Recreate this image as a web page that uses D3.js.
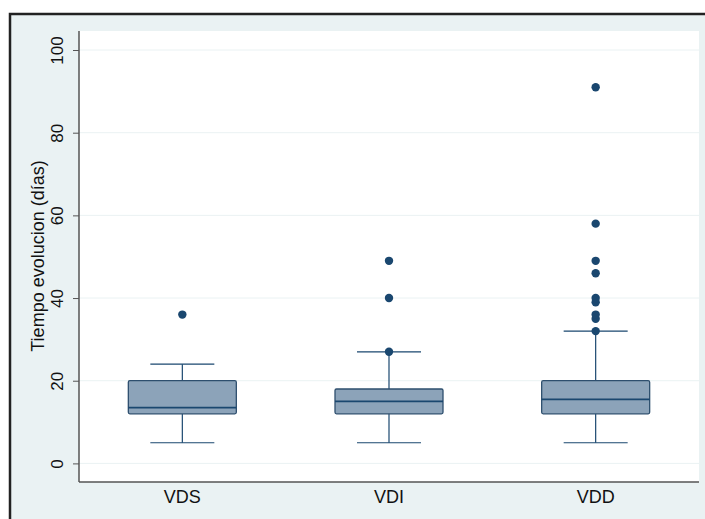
<!DOCTYPE html>
<html>
<head>
<meta charset="utf-8">
<script src="https://cdn.jsdelivr.net/npm/d3@7"></script>
<style>
  body { margin: 0; background: #fff; }
  svg { display: block; font-family: "Liberation Sans", Arial, sans-serif; }
</style>
</head>
<body>
<svg width="705" height="519"></svg>
<script>
// groups and box stats
var groups = ["VDS", "VDI", "VDD"];
var lowWhisker = [5, 5, 5];
var q1 = [12, 12, 12];
var median = [13.5, 15, 15.5];
var q3 = [20, 18, 20];
var highWhisker = [24, 27, 32];
var outliers = [
  [36],
  [27, 40, 49],
  [32, 35, 36, 39, 40, 46, 49, 58, 91]
];
var yTicks = [0, 20, 40, 60, 80, 100];

var navy = "#1a476f";

var svg = d3.select("svg");

// outer frame (stata graph region)
svg.append("rect")
  .attr("x", 10).attr("y", 14)
  .attr("width", 705).attr("height", 519)
  .attr("fill", "#eaf2f3")
  .attr("stroke", "#222")
  .attr("stroke-width", 2.5);

var margin = {left: 79, top: 31, right: 6, bottom: 37};
var width = 705 - margin.left - margin.right,
  height = 519 - margin.top - margin.bottom;

var g = svg.append("g")
  .attr("transform", "translate(" + margin.left + "," + margin.top + ")");

g.append("rect")
  .attr("width", width).attr("height", height)
  .attr("fill", "#fff");

var y = d3.scaleLinear().domain([-4.5, 104.6]).range([height, 0]);
var x = d3.scalePoint().domain(groups).range([0, width]).padding(0.5);

// gridlines
g.append("g").selectAll("line")
  .data(yTicks)
  .enter().append("line")
  .attr("x1", 0).attr("x2", width)
  .attr("y1", function (d) { return y(d); })
  .attr("y2", function (d) { return y(d); })
  .attr("stroke", "#eaf2f3")
  .attr("stroke-width", 1);

// y axis, labels turned on their side like stata
var yAxis = g.append("g")
  .call(d3.axisLeft(y).tickValues(yTicks).tickSize(6));
yAxis.attr("font-size", null).attr("font-family", null);
yAxis.select(".domain").attr("stroke", "#555").attr("stroke-width", 1.5).attr("d", "M0," + height + "V0");
yAxis.selectAll(".tick line").attr("stroke", "#555");
yAxis.selectAll(".tick text")
  .attr("font-size", 17)
  .attr("fill", "#111")
  .attr("transform", "rotate(-90)")
  .attr("x", 0)
  .attr("y", -20)
  .attr("dy", "0")
  .attr("text-anchor", "middle")
  .attr("dominant-baseline", "middle");

// x axis
g.append("line")
  .attr("x1", 0).attr("x2", width)
  .attr("y1", height).attr("y2", height)
  .attr("stroke", "#555").attr("stroke-width", 1.5);

g.append("g").selectAll("text")
  .data(groups)
  .enter().append("text")
  .attr("x", function (d) { return x(d); })
  .attr("y", height + 16)
  .attr("text-anchor", "middle")
  .attr("dominant-baseline", "middle")
  .attr("font-size", 18)
  .attr("fill", "#111")
  .text(function (d) { return d; });

// axis title
svg.append("text")
  .attr("transform", "translate(39,256) rotate(-90)")
  .attr("text-anchor", "middle")
  .attr("dominant-baseline", "middle")
  .attr("font-size", 18)
  .attr("fill", "#111")
  .text("Tiempo evolucion (días)");

// boxes
var boxW = 108, capW = 64;
var box = g.append("g").selectAll("g")
  .data(groups)
  .enter().append("g")
  .attr("transform", function (d) { return "translate(" + x(d) + ",0)"; });

box.append("line")
  .attr("x1", 0).attr("x2", 0)
  .attr("y1", function (d, i) { return y(lowWhisker[i]); })
  .attr("y2", function (d, i) { return y(q1[i]); })
  .attr("stroke", navy).attr("stroke-width", 1.2);
box.append("line")
  .attr("x1", 0).attr("x2", 0)
  .attr("y1", function (d, i) { return y(q3[i]); })
  .attr("y2", function (d, i) { return y(highWhisker[i]); })
  .attr("stroke", navy).attr("stroke-width", 1.2);
box.append("line")
  .attr("x1", -capW / 2).attr("x2", capW / 2)
  .attr("y1", function (d, i) { return y(lowWhisker[i]); })
  .attr("y2", function (d, i) { return y(lowWhisker[i]); })
  .attr("stroke", navy).attr("stroke-width", 1.2);
box.append("line")
  .attr("x1", -capW / 2).attr("x2", capW / 2)
  .attr("y1", function (d, i) { return y(highWhisker[i]); })
  .attr("y2", function (d, i) { return y(highWhisker[i]); })
  .attr("stroke", navy).attr("stroke-width", 1.2);

box.append("rect")
  .attr("x", -boxW / 2).attr("width", boxW)
  .attr("y", function (d, i) { return y(q3[i]); })
  .attr("height", function (d, i) { return y(q1[i]) - y(q3[i]); })
  .attr("rx", 1.5)
  .attr("fill", "#8ca3b9")
  .attr("stroke", "#2e4f6e").attr("stroke-width", 1.3);

box.append("line")
  .attr("x1", -boxW / 2).attr("x2", boxW / 2)
  .attr("y1", function (d, i) { return y(median[i]); })
  .attr("y2", function (d, i) { return y(median[i]); })
  .attr("stroke", navy).attr("stroke-width", 1.8);

box.selectAll("circle")
  .data(function (d, i) { return outliers[i]; })
  .enter().append("circle")
  .attr("cx", 0)
  .attr("cy", function (d) { return y(d); })
  .attr("r", 4.2)
  .attr("fill", navy);
</script>
</body>
</html>
